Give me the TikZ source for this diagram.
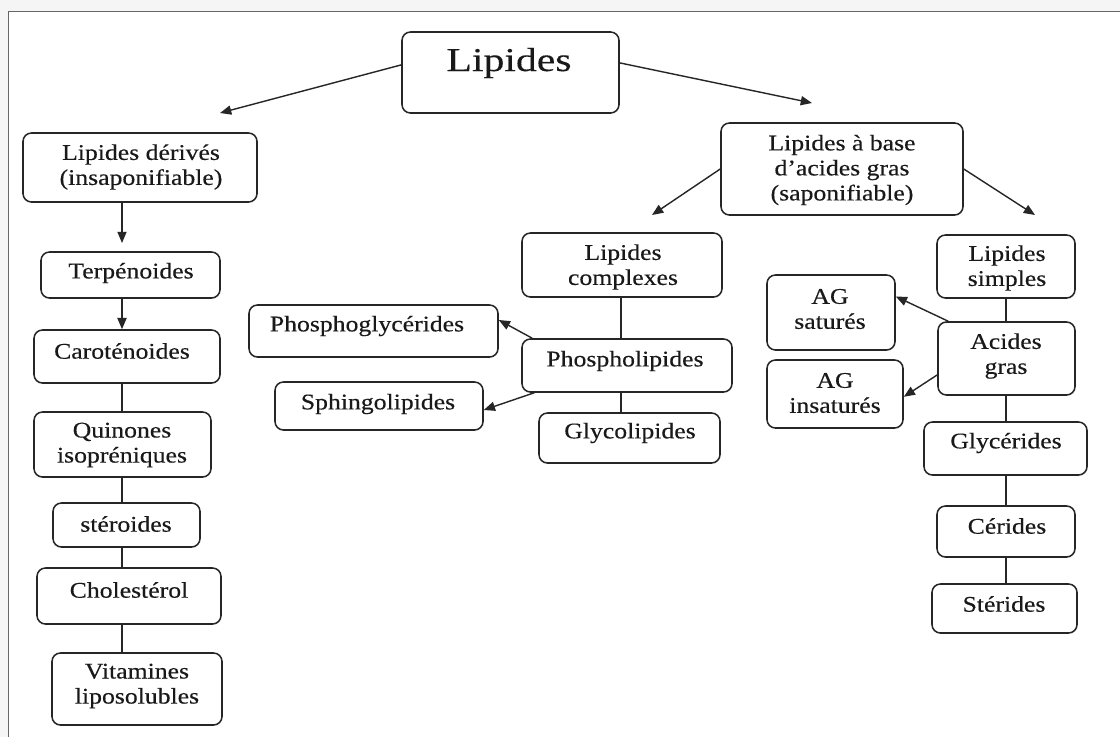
\documentclass[tikz,border=0pt]{standalone}
\usepackage{fontspec}
\setmainfont{Liberation Serif}[FakeStretch=1.15,FakeBold=0.35]
\newfontfamily\titrefont{Liberation Serif}[FakeStretch=1.25,FakeBold=0.2]
\usetikzlibrary{arrows.meta,fit}

\tikzset{
  boite/.style={draw=black!85, line width=1.1pt, rounded corners=6pt, inner sep=0pt},
  txt/.style={font=\fontsize{15.9pt}{17.8pt}\selectfont, text=black!90, align=center, inner sep=0pt},
  fleche/.style={-{Triangle[length=8pt,width=6.5pt]}, line width=1pt, black!85},
  trait/.style={line width=1pt, black!85}
}

\begin{document}
\begin{tikzpicture}[x=0.025cm,y=-0.025cm]
  \useasboundingbox (0,0) rectangle (1120,737);
  \fill[gray!8] (0,0) rectangle (1120,737);
  \fill[white] (8,11) rectangle (1120,737);
  \draw[black!60,line width=0.7pt] (8,737) -- (8,11) -- (1120,11);

  % boites
  \node[boite, fit={(402,32) (619,113)}] (lip) {};
  \node[boite, fit={(23,133) (257,202)}] (ld) {};
  \node[boite, fit={(41,252) (220,298)}] (terp) {};
  \node[boite, fit={(34,330) (220,383)}] (car) {};
  \node[boite, fit={(34,412) (211,477)}] (quin) {};
  \node[boite, fit={(53,503) (200,547)}] (ster) {};
  \node[boite, fit={(37,568) (221,624)}] (chol) {};
  \node[boite, fit={(52,653) (222,725)}] (vit) {};
  \node[boite, fit={(249,305) (498,357)}] (pg) {};
  \node[boite, fit={(275,382) (483,430)}] (sph) {};
  \node[boite, fit={(522,233) (722,297)}] (lc) {};
  \node[boite, fit={(522,339) (732,392)}] (phl) {};
  \node[boite, fit={(539,413) (720,463)}] (gl) {};
  \node[boite, fit={(721,123) (963,215)}] (lab) {};
  \node[boite, fit={(767,275) (895,350)}] (ags) {};
  \node[boite, fit={(767,360) (903,428)}] (agi) {};
  \node[boite, fit={(937,235) (1075,298)}] (ls) {};
  \node[boite, fit={(938,322) (1075,395)}] (acg) {};
  \node[boite, fit={(924,422) (1087,475)}] (glyc) {};
  \node[boite, fit={(937,506) (1075,557)}] (cer) {};
  \node[boite, fit={(932,584) (1077,633)}] (sted) {};

  % textes
  \node[txt,font=\titrefont\fontsize{23.7pt}{28pt}\selectfont] (lipT) at (509,63) {Lipides};
  \node[txt] (ldT) at (141,167) {Lipides dérivés\\(insaponifiable)};
  \node[txt] (terpT) at (131,273) {Terpénoides};
  \node[txt] (carT) at (122,351) {Caroténoides};
  \node[txt] (quinT) at (122,445) {Quinones\\isopréniques};
  \node[txt] (sterT) at (126,524) {stéroides};
  \node[txt] (cholT) at (129,590) {Cholestérol};
  \node[txt] (vitT) at (137,686) {Vitamines\\liposolubles};
  \node[txt] (pgT) at (367,326) {Phosphoglycérides};
  \node[txt] (sphT) at (378,404) {Sphingolipides};
  \node[txt] (lcT) at (623,267) {Lipides\\complexes};
  \node[txt] (phlT) at (625,361) {Phospholipides};
  \node[txt] (glT) at (630,433) {Glycolipides};
  \node[txt] (labT) at (842,170) {Lipides à base\\d’acides gras\\(saponifiable)};
  \node[txt] (agsT) at (830,309) {AG\\saturés};
  \node[txt] (agiT) at (835,393) {AG\\insaturés};
  \node[txt] (lsT) at (1007,268) {Lipides\\simples};
  \node[txt] (acgT) at (1006,356) {Acides\\gras};
  \node[txt] (glycT) at (1006,443) {Glycérides};
  \node[txt] (cerT) at (1007,526) {Cérides};
  \node[txt] (stedT) at (1004,604) {Stérides};

  \coordinate (colL) at (122,0);
  \coordinate (colM) at (621,0);
  \coordinate (colR) at (1006,0);
  \coordinate (a1) at (220,113);
  \coordinate (a2) at (812,103);
  \coordinate (a3) at (122,243);
  \coordinate (a4) at (652,215);
  \coordinate (a5) at (1035,215);

  % Lipides
  \draw[fleche] ([yshift=0.19cm]lip.west) -- (a1);
  \draw[fleche] ([yshift=0.24cm]lip.east) -- (a2);

  % colonne gauche
  \draw[fleche] (ld.south -| colL) -- (a3);
  \draw[fleche] (terp.south -| colL) -- (car.north -| colL);
  \draw[trait] (car.south -| colL) -- (quin.north -| colL);
  \draw[trait] (quin.south -| colL) -- (ster.north -| colL);
  \draw[trait] (ster.south -| colL) -- (chol.north -| colL);
  \draw[trait] (chol.south -| colL) -- (vit.north -| colL);

  % lipides complexes
  \draw[fleche] (lab.west) -- (a4);
  \draw[trait] (lc.south -| colM) -- (phl.north -| colM);
  \draw[trait] (phl.south -| colM) -- (gl.north -| colM);
  \draw[fleche] ([xshift=0.275cm]phl.north west) -- ([yshift=0.275cm]pg.east);
  \draw[fleche] ([xshift=0.325cm]phl.south west) -- ([yshift=-0.1cm]sph.east);

  % lipides simples
  \draw[fleche] (lab.east) -- (a5);
  \draw[trait] (ls.south -| colR) -- (acg.north -| colR);
  \draw[trait] (acg.south -| colR) -- (glyc.north -| colR);
  \draw[trait] (glyc.south -| colR) -- (cer.north -| colR);
  \draw[trait] (cer.south -| colR) -- (sted.north -| colR);
  \draw[fleche] ([xshift=0.275cm]acg.north west) -- ([yshift=0.4cm]ags.east);
  \draw[fleche] ([yshift=-0.41cm]acg.west) -- ([yshift=-0.07cm]agi.east);
\end{tikzpicture}
\end{document}
